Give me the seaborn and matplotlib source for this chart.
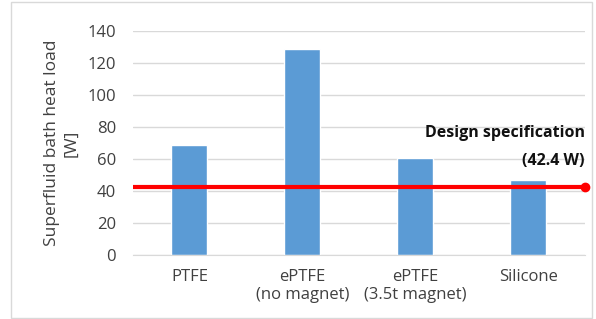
import matplotlib
matplotlib.use("Agg")
import matplotlib.pyplot as plt
import seaborn as sns
import pandas as pd

# Data
materials = ["PTFE", "ePTFE\n(no magnet)", "ePTFE\n(3.5t magnet)", "Silicone"]
heat_load = [68.7, 128.6, 60.6, 46.9]
design_spec = 42.4

df = pd.DataFrame({"material": materials, "heat_load": heat_load})

sns.set_style("white")
plt.rcParams["font.family"] = ["Open Sans", "DejaVu Sans"]

fig = plt.figure(figsize=(5.96, 3.19), dpi=100)
ax = fig.add_axes([0.223, 0.2, 0.758, 0.703])

sns.barplot(data=df, x="material", y="heat_load", color="#5b9bd5",
            saturation=1, width=0.32, ax=ax)

# design specification line with end marker
ax.plot([-0.5, 3.5], [design_spec, design_spec], color="#ff0000", lw=3,
        solid_capstyle="butt", zorder=3)
ax.plot([3.5], [design_spec], "o", color="#ff0000", ms=6, zorder=4, clip_on=False)
ax.text(3.5, 71, "Design specification", ha="right", va="bottom",
        fontsize=11.5, fontweight="bold", color="#111111")
ax.text(3.5, 54, "(42.4 W)", ha="right", va="bottom",
        fontsize=11.5, fontweight="bold", color="#111111")

ax.set_xlim(-0.5, 3.5)
ax.set_ylim(0, 140)
ax.set_yticks(range(0, 141, 20))
ax.yaxis.grid(True, color="#d9d9d9", lw=1)
ax.set_axisbelow(True)
for s in ["top", "right", "left"]:
    ax.spines[s].set_visible(False)
ax.spines["bottom"].set_color("#d9d9d9")
ax.tick_params(axis="both", length=0, labelsize=12, colors="#404040")
ax.tick_params(axis="y", pad=12)
ax.tick_params(axis="x", pad=10)
ax.set_xlabel("")
ax.set_ylabel("Superfluid bath heat load\n[W]", fontsize=12.5, color="#404040",
              labelpad=6, linespacing=1.3)

# thin light frame around the figure
fig.patches.append(plt.Rectangle((0.018, 0.003), 0.975, 0.99, transform=fig.transFigure,
                                 fill=False, edgecolor="#d9d9d9", lw=1))

fig.savefig("out.png", dpi=100)
